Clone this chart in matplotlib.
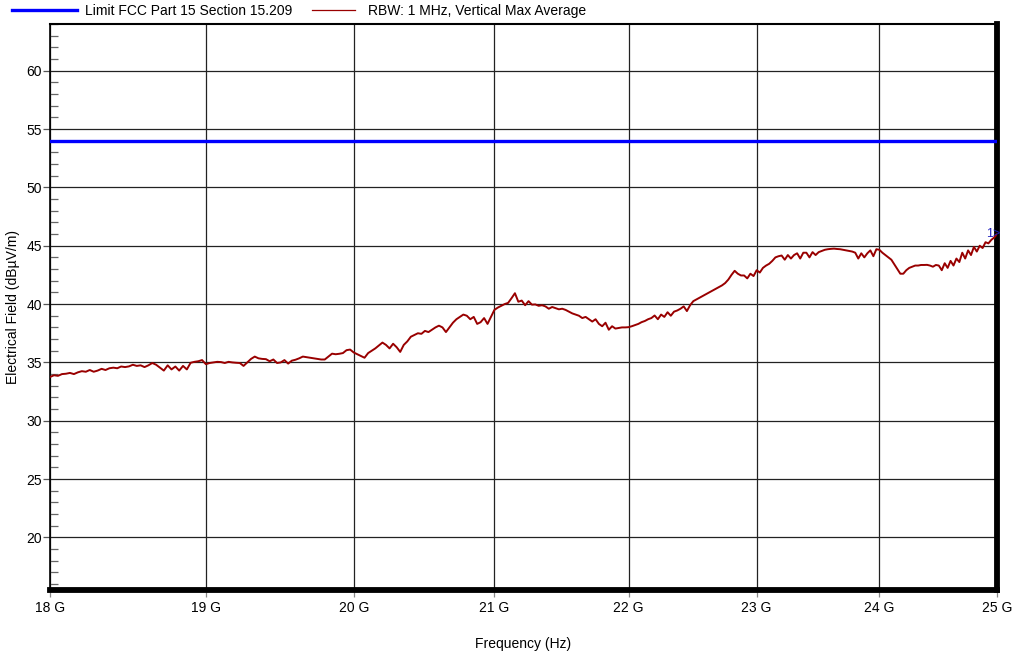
import numpy as np
import matplotlib
matplotlib.use("Agg")
import matplotlib.pyplot as plt
from matplotlib.ticker import FixedLocator, NullLocator, MultipleLocator

plt.rcParams['font.family'] = ['Liberation Sans', 'DejaVu Sans']

# sweep: 18 GHz .. 25 GHz, 281 points (25 MHz step)
f_start = 18.0
f_stop = 25.0
n_points = 281

# measured level (dBuV/m), 4 points per 100 MHz row
level = [
    33.75, 33.9, 33.85, 34.0,      # 18.0
    34.03, 34.1, 34.0, 34.15,      # 18.1
    34.25, 34.2, 34.35, 34.2,      # 18.2
    34.3, 34.45, 34.35, 34.5,      # 18.3
    34.55, 34.5, 34.65, 34.6,      # 18.4
    34.66, 34.8, 34.7, 34.75,      # 18.5
    34.6, 34.75, 34.95, 34.8,      # 18.6
    34.55, 34.3, 34.75, 34.4,      # 18.7
    34.65, 34.3, 34.7, 34.4,       # 18.8
    34.97, 35.05, 35.1, 35.2,      # 18.9
    34.85, 34.95, 35.0, 35.05,     # 19.0
    35.03, 34.95, 35.05, 35.0,     # 19.1
    34.97, 34.95, 34.7, 35.0,      # 19.2
    35.3, 35.5, 35.35, 35.3,       # 19.3
    35.28, 35.1, 35.25, 34.95,     # 19.4
    35.0, 35.2, 34.9, 35.15,       # 19.5
    35.23, 35.35, 35.5, 35.45,     # 19.6
    35.4, 35.35, 35.3, 35.25,      # 19.7
    35.25, 35.5, 35.75, 35.7,      # 19.8
    35.74, 35.8, 36.05, 36.1,      # 19.9
    35.85, 35.7, 35.55, 35.4,      # 20.0
    35.8, 36.0, 36.2, 36.45,       # 20.1
    36.7, 36.5, 36.2, 36.6,        # 20.2
    36.3, 35.9, 36.5, 36.8,        # 20.3
    37.2, 37.35, 37.5, 37.45,      # 20.4
    37.7, 37.6, 37.8, 38.0,        # 20.5
    38.15, 38.0, 37.6, 38.0,       # 20.6
    38.4, 38.7, 38.9, 39.1,        # 20.7
    39.0, 38.7, 38.9, 38.3,        # 20.8
    38.45, 38.8, 38.3, 38.9,       # 20.9
    39.5, 39.7, 39.85, 40.0,       # 21.0
    40.1, 40.5, 40.93, 40.2,       # 21.1
    40.3, 39.9, 40.25, 39.95,      # 21.2
    39.97, 39.85, 39.9, 39.8,      # 21.3
    39.6, 39.75, 39.65, 39.55,     # 21.4
    39.6, 39.5, 39.35, 39.2,       # 21.5
    39.1, 39.0, 38.8, 38.9,        # 21.6
    38.7, 38.5, 38.7, 38.3,        # 21.7
    38.1, 38.4, 37.8, 38.1,        # 21.8
    37.9, 37.95, 38.0, 38.0,       # 21.9
    38.02, 38.1, 38.2, 38.3,       # 22.0
    38.45, 38.55, 38.7, 38.8,      # 22.1
    39.02, 38.7, 39.1, 38.9,       # 22.2
    39.3, 39.0, 39.35, 39.45,      # 22.3
    39.6, 39.8, 39.4, 39.9,        # 22.4
    40.25, 40.4, 40.55, 40.7,      # 22.5
    40.85, 41.0, 41.15, 41.3,      # 22.6
    41.45, 41.6, 41.8, 42.1,       # 22.7
    42.5, 42.85, 42.6, 42.45,      # 22.8
    42.45, 42.2, 42.6, 42.4,       # 22.9
    42.9, 42.7, 43.1, 43.3,        # 23.0
    43.45, 43.7, 44.0, 44.1,       # 23.1
    44.16, 43.8, 44.2, 43.9,       # 23.2
    44.2, 44.35, 43.9, 44.4,       # 23.3
    44.4, 44.0, 44.45, 44.2,       # 23.4
    44.45, 44.55, 44.65, 44.7,     # 23.5
    44.73, 44.75, 44.72, 44.7,     # 23.6
    44.65, 44.6, 44.55, 44.5,      # 23.7
    44.4, 43.9, 44.35, 44.0,       # 23.8
    44.35, 44.6, 44.1, 44.7,       # 23.9
    44.65, 44.4, 44.2, 44.0,       # 24.0
    43.8, 43.4, 43.0, 42.6,        # 24.1
    42.6, 42.9, 43.1, 43.2,        # 24.2
    43.3, 43.3, 43.35, 43.35,      # 24.3
    43.36, 43.3, 43.2, 43.35,      # 24.4
    43.3, 42.9, 43.5, 43.1,        # 24.5
    43.7, 43.3, 43.9, 43.6,        # 24.6
    44.4, 43.9, 44.6, 44.2,        # 24.7
    44.9, 44.5, 45.0, 44.8,        # 24.8
    45.3, 45.2, 45.5, 45.7,        # 24.9
    46.0,                          # 25.0
]

limit_level = 54.0
limit_label = "Limit FCC Part 15 Section 15.209"
trace_label = "RBW: 1 MHz, Vertical Max Average"

xticks = [18, 19, 20, 21, 22, 23, 24, 25]
xticklabels = ["18 G", "19 G", "20 G", "21 G", "22 G", "23 G", "24 G", "25 G"]
yticks = [20, 25, 30, 35, 40, 45, 50, 55, 60]

freq = np.linspace(f_start, f_stop, n_points)

fig = plt.figure(figsize=(10.14, 6.57), dpi=100)
ax = fig.add_axes([0.0493, 0.102, 0.934, 0.8615])

ax.set_xscale('log')
ax.set_xlim(f_start, f_stop)
ax.set_ylim(15.5, 64.0)

lim_line, = ax.plot([f_start, f_stop], [limit_level, limit_level], color='#0000ff',
                    lw=2.4, zorder=3)
trace_line, = ax.plot(freq, level, color='#990000', lw=1.4, zorder=3)

# marker at end of trace
ax.annotate("1>", xy=(freq[-1], level[-1]), xytext=(2, 0), textcoords='offset points',
            ha='right', va='center', color='#2020c0', fontsize=9, zorder=4)

ax.xaxis.set_major_locator(FixedLocator(xticks))
ax.xaxis.set_minor_locator(NullLocator())
ax.set_xticklabels(xticklabels)
ax.set_yticks(yticks)
ax.yaxis.set_minor_locator(MultipleLocator(1))

ax.grid(True, which='major', color='#222222', lw=0.9)
ax.tick_params(axis='y', which='major', direction='out', length=5, width=0.9,
               color='#555555', labelsize=10, pad=1)
ax.tick_params(axis='y', which='minor', direction='in', length=6, width=0.9,
               color='#666666')
ax.tick_params(axis='x', which='major', direction='out', length=5, width=0.9,
               color='#888888', labelsize=10, pad=3)

ax.spines['left'].set_linewidth(1.2)
ax.spines['top'].set_linewidth(1.5)
ax.spines['bottom'].set_linewidth(4.2)
ax.spines['right'].set_linewidth(4.2)

ax.set_xlabel("Frequency (Hz)", fontsize=10, labelpad=16)
ax.set_ylabel("Electrical Field (dBµV/m)", fontsize=10, labelpad=4)

# legend entries placed separately (different handle lengths)
leg1 = fig.legend([lim_line], [limit_label], loc='upper left',
                  bbox_to_anchor=(12 / 1014, 1 - 4 / 657), frameon=False, fontsize=10,
                  handlelength=4.7, handletextpad=0.55, borderpad=0, borderaxespad=0)
leg2 = fig.legend([trace_line], [trace_label], loc='upper left',
                  bbox_to_anchor=(312 / 1014, 1 - 4 / 657), frameon=False, fontsize=10,
                  handlelength=3.1, handletextpad=0.9, borderpad=0, borderaxespad=0)
leg2.get_lines()[0].set_linewidth(0.9)

fig.savefig("out.png", dpi=100)
